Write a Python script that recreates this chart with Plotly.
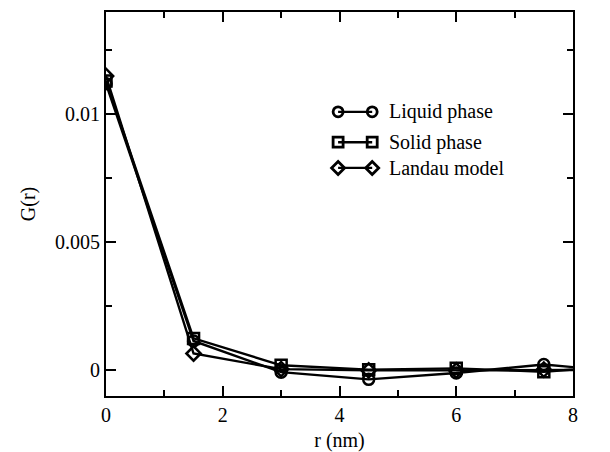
import plotly.graph_objects as go

r = [0, 1.5, 3, 4.5, 6, 7.5, 9]
liquid = [0.0112, 0.00115, -0.00007, -0.00035, -0.0001, 0.00023, -0.00008]
solid = [0.0113, 0.00125, 0.0002, 0.00003, 0.00008, -0.00005, 0.0002]
landau = [0.0115, 0.00066, 0.00005, 0.0, 0.0, 0.00003, 0.00002]

names = ["Liquid phase", "Solid phase", "Landau model"]
symbols = ["circle-open", "square-open", "diamond-open"]
series = [liquid, solid, landau]

font = dict(family="Liberation Serif, Times New Roman, serif", size=20, color="black")

fig = go.Figure()
for name, sym, ys in zip(names, symbols, series):
    fig.add_trace(go.Scatter(
        x=r, y=ys, mode="lines+markers", name=name, showlegend=False,
        line=dict(color="black", width=2.4),
        marker=dict(symbol=sym, size=11, color="black", line=dict(width=2.5, color="black")),
        cliponaxis=True,
    ))

# custom legend drawn in a paper-like overlay axis
leg_y = [0.74, 0.661, 0.594]
for name, sym, ly in zip(names, symbols, leg_y):
    fig.add_trace(go.Scatter(
        x=[0.497, 0.570], y=[ly, ly], mode="lines+markers", showlegend=False,
        xaxis="x2", yaxis="y2",
        line=dict(color="black", width=2.4),
        marker=dict(symbol=sym, size=10, color="black", line=dict(width=2.8, color="black")),
        hoverinfo="skip",
    ))
    fig.add_annotation(x=0.602, y=ly, xref="x2", yref="y2", text=name,
                       showarrow=False, xanchor="left", yanchor="middle", font=font)

fig.update_layout(
    width=610, height=452,
    margin=dict(l=106, r=37, t=12, b=56, autoexpand=False),
    paper_bgcolor="white", plot_bgcolor="white",
    font=font,
    xaxis=dict(
        range=[0, 8], tickvals=[0, 2, 4, 6, 8], ticktext=["0", "2", "4", "6", "8"],
        ticks="inside", ticklen=10, tickwidth=1.5, tickcolor="black",
        minor=dict(tickvals=[1, 3, 5, 7], ticks="inside", ticklen=6, tickwidth=1.5, tickcolor="black"),
        showline=True, linecolor="black", linewidth=2, mirror="ticks",
        showgrid=False, zeroline=False, automargin=False,
        title=dict(text="r (nm)", font=font, standoff=8),
    ),
    yaxis=dict(
        range=[-0.001, 0.014], tickvals=[0, 0.005, 0.01], ticktext=["0", "0.005", "0.01"],
        ticks="inside", ticklen=10, tickwidth=1.5, tickcolor="black",
        minor=dict(tickvals=[0.0025, 0.0075, 0.0125], ticks="inside", ticklen=6, tickwidth=1.5, tickcolor="black"),
        showline=True, linecolor="black", linewidth=2, mirror="ticks",
        showgrid=False, zeroline=False, automargin=False,
        title=dict(text="G(r)", font=font, standoff=14),
    ),
    xaxis2=dict(domain=[0, 1], range=[0, 1], visible=False, overlaying="x", anchor="y2"),
    yaxis2=dict(domain=[0, 1], range=[0, 1], visible=False, overlaying="y", anchor="x2"),
)

fig.write_html("out.html")
